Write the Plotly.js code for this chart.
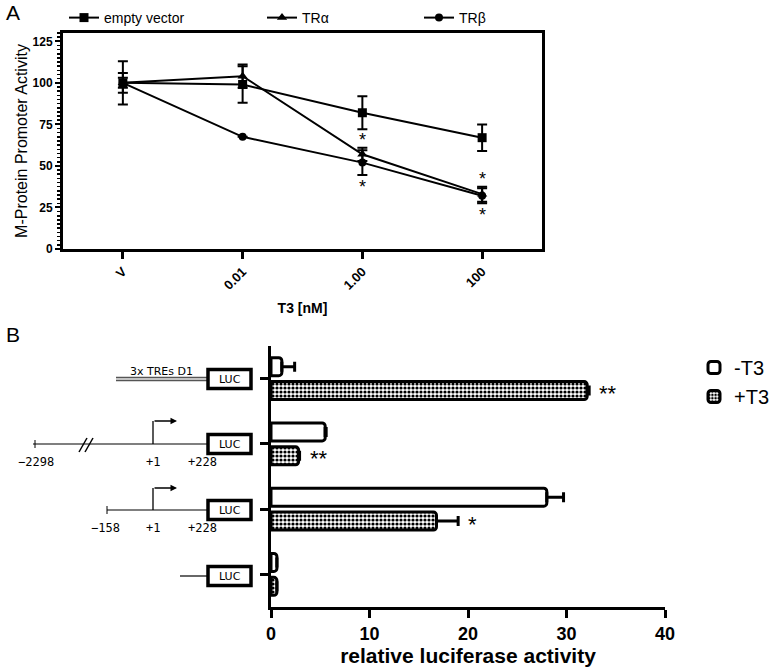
<!DOCTYPE html>
<html><head><meta charset="utf-8">
<script src="https://cdn.plot.ly/plotly-3.0.1.min.js"></script>
<style>html,body{margin:0;padding:0;background:#fff}</style>
</head><body><div id="chart" style="width:777px;height:672px"></div>
<script>
// ---------- Panel A data ----------
const doses = ['V', '0.01', '1.00', '100'];
const emptyVector = [100, 99, 82, 67];
const emptyVectorErr = [6, 11, 10, 8];
const trAlpha = [100, 104, 57, 33];
const trAlphaErr = [13, 7, 4, 4.5];
const trBeta = [100, 67.5, 52, 32];
const trBetaErr = [3, 0, 7.5, 4.5];
const trAlphaSig = ['', '', '*', '*'];
const trBetaSig = ['', '', '*', '*'];
const yTicksA = [0, 25, 50, 75, 100, 125];

// ---------- Panel B data ----------
const constructs = ['3x TREs D1', '-2298/+228', '-158/+228', 'LUC only'];
const minusT3 = [1.1, 5.5, 28.0, 0.6];
const minusT3Err = [1.3, 0.1, 1.7, 0];
const plusT3 = [32.1, 2.8, 16.8, 0.6];
const plusT3Err = [0.2, 0.1, 2.2, 0];
const noLowErr = [0, 0, 0, 0];
const plusT3Sig = ['**', '**', '*', ''];
const xTicksB = [0, 10, 20, 30, 40];

const W = 777, H = 672;
const px = v => v / W;
const py = v => 1 - v / H;
const FONT = 'Liberation Sans, Arial, sans-serif';
const MONO = 'DejaVu Sans Mono, monospace';

const errA = arr => ({type: 'data', array: arr, visible: true, color: '#000', thickness: 2, width: 5});

const traces = [
  {type: 'scatter', mode: 'lines+markers', name: 'empty vector', x: doses, y: emptyVector,
   xaxis: 'x', yaxis: 'y', legend: 'legend',
   line: {color: '#000', width: 2}, marker: {symbol: 'square', size: 9, color: '#000'},
   error_y: errA(emptyVectorErr)},
  {type: 'scatter', mode: 'lines+markers', name: 'TRα', x: doses, y: trAlpha,
   xaxis: 'x', yaxis: 'y', legend: 'legend2',
   line: {color: '#000', width: 2}, marker: {symbol: 'triangle-up', size: 9, color: '#000'},
   error_y: errA(trAlphaErr)},
  {type: 'scatter', mode: 'lines+markers', name: 'TRβ', x: doses, y: trBeta,
   xaxis: 'x', yaxis: 'y', legend: 'legend3',
   line: {color: '#000', width: 2}, marker: {symbol: 'circle', size: 8, color: '#000'},
   error_y: errA(trBetaErr)},
  {type: 'bar', orientation: 'h', name: '-T3', y: constructs, x: minusT3,
   xaxis: 'x2', yaxis: 'y2', legend: 'legend4',
   marker: {color: '#fff', line: {color: '#000', width: 3}},
   error_x: {type: 'data', symmetric: false, array: minusT3Err, arrayminus: noLowErr, color: '#000', thickness: 3, width: 5}},
  {type: 'bar', orientation: 'h', name: '+T3', y: constructs, x: plusT3,
   xaxis: 'x2', yaxis: 'y2', legend: 'legend4',
   marker: {color: '#fff', line: {color: '#000', width: 3},
            pattern: {shape: '.', size: 4, solidity: 0.5, fgcolor: '#000', bgcolor: '#fff'}},
   error_x: {type: 'data', symmetric: false, array: plusT3Err, arrayminus: noLowErr, color: '#000', thickness: 3, width: 5}}
];

const annotations = [
  {text: 'A', xref: 'paper', yref: 'paper', x: px(4), y: py(12), xanchor: 'left', yanchor: 'middle', showarrow: false, font: {family: FONT, size: 21, color: '#000'}},
  {text: 'B', xref: 'paper', yref: 'paper', x: px(4), y: py(334), xanchor: 'left', yanchor: 'middle', showarrow: false, font: {family: FONT, size: 21, color: '#000'}}
];
doses.forEach((d, i) => {
  if (trAlphaSig[i]) annotations.push({text: trAlphaSig[i], xref: 'x', yref: 'y', x: i, y: trAlpha[i] + trAlphaErr[i], yanchor: 'bottom', yshift: -4, showarrow: false, font: {family: FONT, size: 18, color: '#000'}});
  if (trBetaSig[i]) annotations.push({text: trBetaSig[i], xref: 'x', yref: 'y', x: i, y: trBeta[i] - trBetaErr[i], yanchor: 'top', yshift: 0, showarrow: false, font: {family: FONT, size: 18, color: '#000'}});
});
constructs.forEach((c, i) => {
  if (plusT3Sig[i]) annotations.push({text: plusT3Sig[i], xref: 'x2', yref: 'y2', x: plusT3[i] + plusT3Err[i], y: i, xanchor: 'left', xshift: 8, yshift: -15, showarrow: false, font: {family: FONT, size: 22, color: '#000'}});
});

// ---------- schematic of constructs (decoration, pixel positions) ----------
const shapes = [];
const hline = (x0, x1, y, w, c) => shapes.push({type: 'line', xref: 'paper', yref: 'paper', x0: px(x0), x1: px(x1), y0: py(y), y1: py(y), line: {color: c, width: w}});
const seg = (x0, y0, x1, y1, w) => shapes.push({type: 'line', xref: 'paper', yref: 'paper', x0: px(x0), x1: px(x1), y0: py(y0), y1: py(y1), line: {color: '#000', width: w}});
const luc = yc => {
  shapes.push({type: 'rect', xref: 'paper', yref: 'paper', x0: px(208), x1: px(251), y0: py(yc + 9.5), y1: py(yc - 9.5), line: {color: '#000', width: 3.5}, fillcolor: '#fff'});
  annotations.push({text: 'LUC', xref: 'paper', yref: 'paper', x: px(229.5), y: py(yc), xanchor: 'center', yanchor: 'middle', showarrow: false, font: {family: 'DejaVu Sans, sans-serif', size: 11, color: '#000'}});
};
const label = (t, x, y, fam, size) => annotations.push({text: t, xref: 'paper', yref: 'paper', x: px(x), y: py(y), xanchor: 'center', yanchor: 'middle', showarrow: false, font: {family: fam, size: size, color: '#000'}});
const promoterArrow = (x, yBase, yTop) => {
  seg(x, yBase, x, yTop, 1.3);
  annotations.push({text: '', xref: 'paper', yref: 'paper', x: px(x + 24), y: py(yTop), ax: -24, ay: 0, showarrow: true, arrowhead: 2, arrowsize: 1, arrowwidth: 1.3, arrowcolor: '#000'});
};

// construct 1
hline(116, 208, 379, 4.5, '#555');
hline(116, 208, 379, 1.5, '#e8e8e8');
luc(379);
label('3x TREs D1', 161, 371, 'DejaVu Sans, sans-serif', 11);
// construct 2
hline(33, 208, 444, 1.2, '#000');
seg(35, 440, 35, 448, 1);
seg(79, 452, 87, 438, 1.5);
seg(85, 452, 93, 438, 1.5);
promoterArrow(153, 444, 421);
luc(444);
label('−2298', 36, 462, MONO, 12);
label('+1', 153, 462, MONO, 12);
label('+228', 202, 462, MONO, 12);
// construct 3
hline(107, 208, 510, 1.2, '#000');
seg(107, 506, 107, 514, 1);
promoterArrow(153, 510, 488);
luc(510);
label('−158', 106, 528, MONO, 12);
label('+1', 153, 528, MONO, 12);
label('+228', 202, 528, MONO, 12);
// construct 4
hline(180, 208, 576, 1.2, '#000');
luc(576);

const legendBase = {orientation: 'h', yanchor: 'middle', xanchor: 'left', bgcolor: 'rgba(0,0,0,0)', font: {family: FONT, size: 14, color: '#000'}};

const layout = {
  width: W, height: H,
  margin: {l: 0, r: 0, t: 0, b: 0},
  paper_bgcolor: '#fff', plot_bgcolor: '#fff',
  font: {family: FONT, color: '#000'},
  barmode: 'group', bargap: 0.27, bargroupgap: 0.25, barcornerradius: 3,
  xaxis: {domain: [px(63), px(542)], anchor: 'y', type: 'category', categoryarray: doses, range: [-0.5, 3.5],
          showline: true, linewidth: 3, linecolor: '#000', mirror: true, showgrid: false, zeroline: false,
          ticks: 'outside', ticklen: 7, tickwidth: 3, tickcolor: '#000', tickangle: -45,
          tickfont: {family: FONT, size: 13, weight: 700},
          title: {text: 'T3 [nM]', font: {family: FONT, size: 14, weight: 700}, standoff: 12}},
  yaxis: {domain: [py(249), py(33)], anchor: 'x', range: [0, 130], tickvals: yTicksA,
          showline: true, linewidth: 3, linecolor: '#000', mirror: true, showgrid: false, zeroline: false,
          ticks: 'outside', ticklen: 5, tickwidth: 2, tickcolor: '#000',
          minor: {dtick: 2.5, ticks: 'outside', ticklen: 3, tickwidth: 1.5, tickcolor: '#000', showgrid: false},
          tickfont: {family: FONT, size: 12, weight: 700},
          title: {text: 'M-Protein Promoter Activity', font: {family: FONT, size: 16}, standoff: 1}},
  xaxis2: {domain: [px(271), px(665)], anchor: 'y2', range: [0, 40], tickvals: xTicksB,
           showline: true, linewidth: 3, linecolor: '#000', showgrid: false, zeroline: false,
           ticks: 'outside', ticklen: 8, tickwidth: 3, tickcolor: '#000',
           tickfont: {family: FONT, size: 18, weight: 700},
           title: {text: 'relative luciferase activity', font: {family: FONT, size: 21, weight: 700}, standoff: 6}},
  yaxis2: {domain: [py(607), py(346)], anchor: 'x2', type: 'category', categoryarray: constructs, range: [3.5, -0.5],
           showline: true, linewidth: 3, linecolor: '#000', showgrid: false, zeroline: false,
           ticks: 'outside', ticklen: 8, tickwidth: 3, tickcolor: '#000', showticklabels: false},
  legend: Object.assign({}, legendBase, {x: px(64), y: py(18)}),
  legend2: Object.assign({}, legendBase, {x: px(262), y: py(18)}),
  legend3: Object.assign({}, legendBase, {x: px(419), y: py(18)}),
  legend4: {x: px(694), y: py(382), xanchor: 'left', yanchor: 'middle', orientation: 'v', bgcolor: 'rgba(0,0,0,0)',
            font: {family: FONT, size: 20, color: '#000'}, tracegroupgap: 0},
  showlegend: true,
  annotations: annotations,
  shapes: shapes
};

Plotly.newPlot('chart', traces, layout, {displayModeBar: false, staticPlot: true});
</script></body></html>
